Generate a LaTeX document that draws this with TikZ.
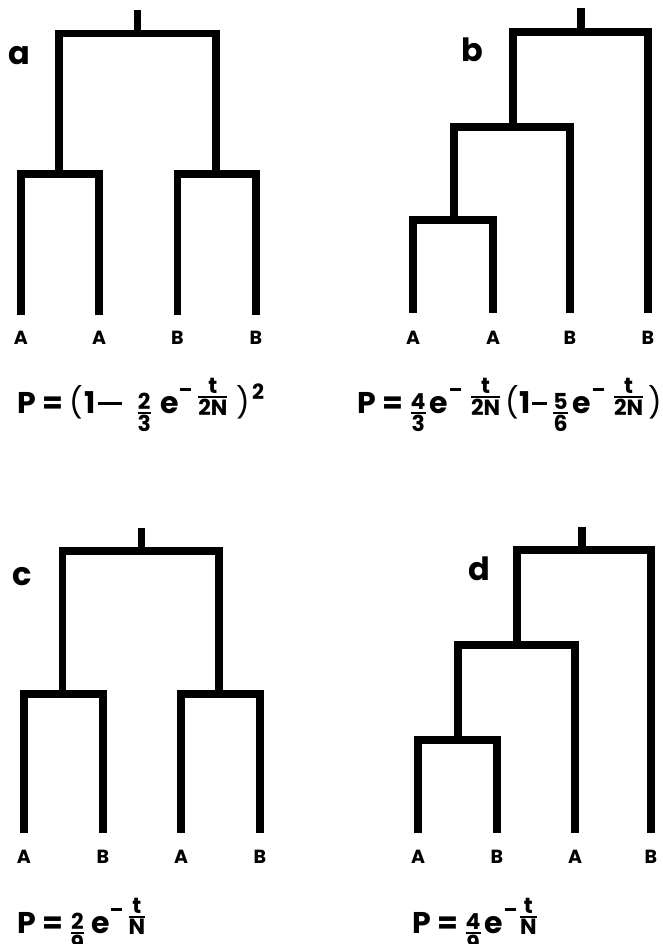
\documentclass[tikz,border=0pt]{standalone}
\usepackage{amsmath}
\usepackage{fontspec}
\setmainfont{Poppins}
\newcommand\fs[1]{\text{\fontsize{22}{22}\selectfont\bfseries #1}}
\newcommand\fr[2]{\raisebox{-0.2em}{$\genfrac{}{}{1.5pt}{1}{\fs{#1}}{\fs{#2}}$}}
\newcommand\mn[1]{\rule[8.5pt]{#1}{3pt}}
\newcommand\ex[2]{\kern1.5pt\rule[22pt]{11pt}{3pt}\kern#2\raisebox{0.33em}{$\genfrac{}{}{1.5pt}{1}{\fs{t}}{\fs{#1}}$}}
\newcommand\pl{\textmd{(}}
\newcommand\pr{\textmd{)}}
\begin{document}
\begin{tikzpicture}[x=1pt,y=-1pt,
  branch/.style={line width=7.5pt, line join=miter, line cap=butt},
  leaf/.style={font=\fontsize{19}{19}\selectfont\bfseries, inner sep=0pt, anchor=center},
  panel/.style={font=\fontsize{32}{32}\selectfont\bfseries, inner sep=0pt, anchor=center},
  formula/.style={font=\fontsize{30}{30}\selectfont\bfseries, anchor=base west, inner sep=0pt}]
\useasboundingbox (0,0) rectangle (663,944);
% ---------- tree a ----------
\coordinate (a0) at (137.5,10);
\coordinate (ar) at (137.5,33.5);
\coordinate (aL) at (59,174);
\coordinate (aR) at (216,174);
\coordinate (a1) at (21,315);
\coordinate (a2) at (99,315);
\coordinate (a3) at (177.5,315);
\coordinate (a4) at (256,315);
\draw[branch] (a0) -- (ar);
\draw[branch] (aL) |- (ar) -| (aR);
\draw[branch] (a1) |- (aL) -| (a2);
\draw[branch] (a3) |- (aR) -| (a4);
\node[panel] (pa) at (19,56) {a};
\node[leaf] (la1) at (21,338) {A};
\node[leaf] (la2) at (99,338) {A};
\node[leaf] (la3) at (177.5,338) {B};
\node[leaf] (la4) at (256,338) {B};
\node[formula] (fa) at (17,413) {P = \pl\kern1pt 1\kern3pt\mn{24pt}\kern14pt\fr{2}{3}\kern8pt e\ex{2N}{6pt}\kern8pt\pr\kern2pt\raisebox{0.45em}{\fontsize{21}{21}\selectfont 2}};
% ---------- tree b ----------
\coordinate (b0) at (581,8);
\coordinate (br) at (581,32);
\coordinate (bL) at (513,127);
\coordinate (bLL) at (454,220);
\coordinate (b1) at (413,313);
\coordinate (b2) at (493,313);
\coordinate (b3) at (570,313);
\coordinate (b4) at (648,313);
\draw[branch] (b0) -- (br);
\draw[branch] (bL) |- (br) -| (b4);
\draw[branch] (bLL) |- (bL) -| (b3);
\draw[branch] (b1) |- (bLL) -| (b2);
\node[panel] (pb) at (472,50) {b};
\node[leaf] (lb1) at (413,338) {A};
\node[leaf] (lb2) at (493,338) {A};
\node[leaf] (lb3) at (570,338) {B};
\node[leaf] (lb4) at (648,338) {B};
\node[formula] (fb) at (357,413) {P = \fr{4}{3}\kern3pt e\ex{2N}{9pt}\kern4pt\pl\kern1pt 1\kern1pt\mn{15pt}\kern5pt\fr{5}{6}\kern4pt e\ex{2N}{9pt}\kern4pt\pr};
% ---------- tree c ----------
\coordinate (c0) at (141.5,528);
\coordinate (cr) at (141.5,551);
\coordinate (cL) at (62.5,694);
\coordinate (cR) at (219,694);
\coordinate (c1) at (24,833);
\coordinate (c2) at (103,833);
\coordinate (c3) at (181,833);
\coordinate (c4) at (260,833);
\draw[branch] (c0) -- (cr);
\draw[branch] (cL) |- (cr) -| (cR);
\draw[branch] (c1) |- (cL) -| (c2);
\draw[branch] (c3) |- (cR) -| (c4);
\node[panel] (pc) at (22,577) {c};
\node[leaf] (lc1) at (24,857) {A};
\node[leaf] (lc2) at (103,857) {B};
\node[leaf] (lc3) at (181,857) {A};
\node[leaf] (lc4) at (260,857) {B};
\node[formula] (fc) at (17,933) {P = \fr{2}{9}\kern6pt e\ex{N}{5pt}};
% ---------- tree d ----------
\coordinate (d0) at (582,527);
\coordinate (dr) at (582,550);
\coordinate (dL) at (517,645);
\coordinate (dLL) at (458,740);
\coordinate (d1) at (418,833);
\coordinate (d2) at (497,833);
\coordinate (d3) at (575,833);
\coordinate (d4) at (651,833);
\draw[branch] (d0) -- (dr);
\draw[branch] (dL) |- (dr) -| (d4);
\draw[branch] (dLL) |- (dL) -| (d3);
\draw[branch] (d1) |- (dLL) -| (d2);
\node[panel] (pd) at (479,569) {d};
\node[leaf] (ld1) at (418,857) {A};
\node[leaf] (ld2) at (497,857) {B};
\node[leaf] (ld3) at (575,857) {A};
\node[leaf] (ld4) at (651,857) {B};
\node[formula] (fd) at (412,933) {P = \fr{4}{9}\kern3pt e\ex{N}{3pt}};
\end{tikzpicture}
\end{document}
